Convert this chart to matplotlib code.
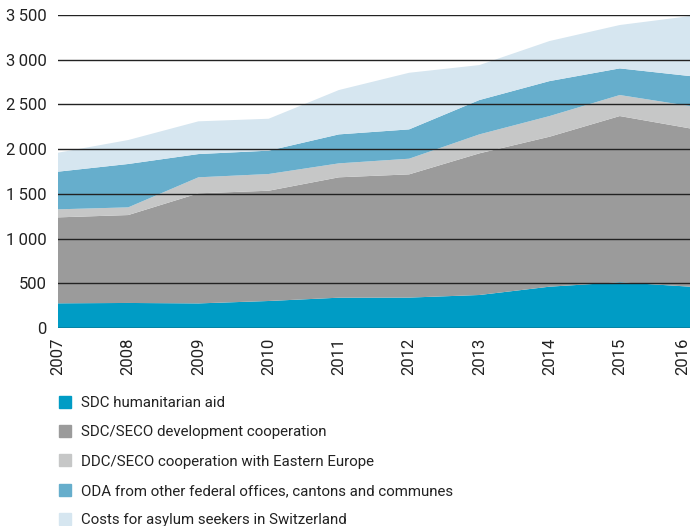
import matplotlib
matplotlib.use("Agg")
import matplotlib.pyplot as plt
from matplotlib.lines import Line2D

plt.rcParams['font.family'] = ['Roboto', 'DejaVu Sans']

# ---- data (CHF million) ----------------------------------------------------
years = [2007, 2008, 2009, 2010, 2011, 2012, 2013, 2014, 2015, 2016]
humanitarian = [276, 280, 275, 302, 339, 340, 369, 462, 511, 462]
development = [961, 983, 1231, 1233, 1346, 1378, 1584, 1677, 1859, 1770]
eastern_europe = [90, 86, 179, 187, 156, 175, 212, 231, 235, 250]
other_oda = [421, 485, 260, 261, 324, 328, 384, 391, 298, 335]
asylum = [212, 268, 366, 357, 496, 633, 391, 448, 485, 671]

labels = ["SDC humanitarian aid",
          "SDC/SECO development cooperation",
          "DDC/SECO cooperation with Eastern Europe",
          "ODA from other federal offices, cantons and communes",
          "Costs for asylum seekers in Switzerland"]
colors = ["#009cc5", "#9b9b9b", "#c6c7c7", "#66aecc", "#d6e6f0"]
yticks = [0, 500, 1000, 1500, 2000, 2500, 3000, 3500]
ytick_labels = ["0", "500", "1\u2009000", "1\u2009500", "2\u2009000",
                "2\u2009500", "3\u2009000", "3\u2009500"]

fig = plt.figure(figsize=(6.91, 5.26), dpi=100)
ax = fig.add_axes([58 / 691, 1 - 328 / 526, 632 / 691, 313 / 526])

ax.stackplot(years, humanitarian, development, eastern_europe, other_oda, asylum,
             colors=colors, linewidth=0)

for v in yticks:
    ax.axhline(v, color="#222222", lw=1.0, zorder=3)

ax.set_xlim(years[0], years[-1])
ax.set_ylim(0, 3500)
ax.set_xticks(years)
ax.set_xticklabels([str(y) for y in years], rotation=90, fontsize=12, color="#222222")
ax.get_xticklabels()[-1].set_ha("right")
ax.set_yticks(yticks)
ax.set_yticklabels(ytick_labels, fontsize=12, color="#222222")
ax.tick_params(length=0)
ax.tick_params(axis="y", pad=8)
ax.tick_params(axis="x", pad=7)
for s in ax.spines.values():
    s.set_visible(False)

handles = [Line2D([], [], ls="none", marker="s", markersize=8.6,
                  markerfacecolor=c, markeredgecolor=c) for c in colors]
fig.legend(handles, labels, loc="upper left", bbox_to_anchor=(57.5 / 691, 1 - 396 / 526),
           frameon=False, fontsize=10.8, labelspacing=1.02, handlelength=1.0,
           handletextpad=0.57, borderaxespad=0, borderpad=0, labelcolor="#222222")

fig.savefig("out.png", dpi=100)
